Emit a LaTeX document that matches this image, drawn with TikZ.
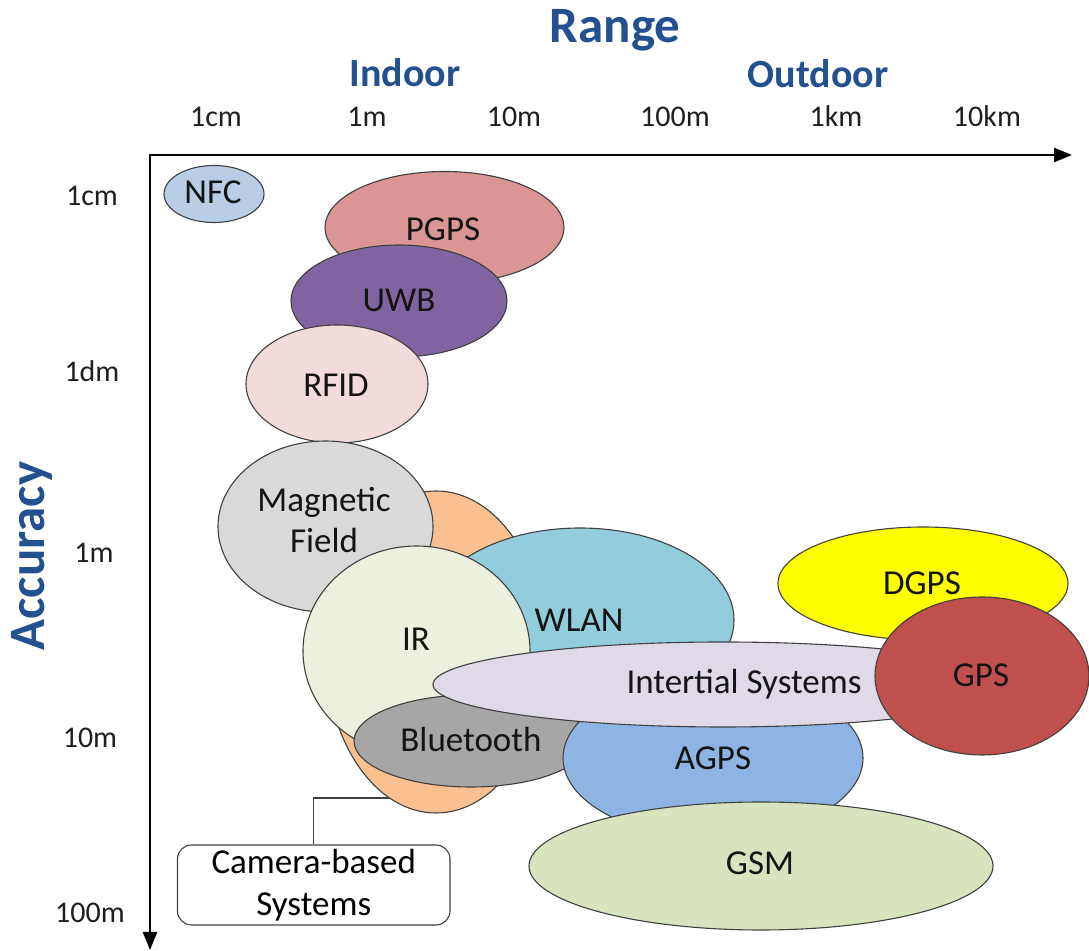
\documentclass[tikz,border=0pt]{standalone}
\usepackage{fontspec}
\setmainfont{Carlito}
\usetikzlibrary{shapes.geometric,arrows.meta}
\definecolor{titleblue}{HTML}{23508E}
\definecolor{cNFC}{HTML}{B9CDE5}
\definecolor{cPGPS}{HTML}{D99694}
\definecolor{cUWB}{HTML}{8064A2}
\definecolor{cRFID}{HTML}{F2DCDB}
\definecolor{cCam}{HTML}{FAC090}
\definecolor{cMag}{HTML}{D9D9D9}
\definecolor{cWLAN}{HTML}{93CDDD}
\definecolor{cIR}{HTML}{EBF1DE}
\definecolor{cBT}{HTML}{A6A6A6}
\definecolor{cAGPS}{HTML}{8EB4E3}
\definecolor{cGSM}{HTML}{D7E4BD}
\definecolor{cINS}{HTML}{E0DAE8}
\definecolor{cDGPS}{HTML}{FFFF00}
\definecolor{cGPS}{HTML}{C0504D}
\begin{document}
\begin{tikzpicture}[x=0.5pt,y=-0.5pt,
  blob/.style={ellipse, draw=black!75, line width=0.55pt, inner sep=0pt, outer sep=0pt},
  lbl/.style={font=\fontsize{17.5}{20.5}\selectfont, inner sep=0pt, text=black!92},
  tick/.style={font=\fontsize{15}{18}\selectfont, anchor=base, inner sep=0pt, text=black!88},
  head/.style={font=\fontsize{20}{24}\selectfont\bfseries, anchor=base, inner sep=0pt, text=titleblue},
  bighead/.style={font=\fontsize{25.5}{30}\selectfont\bfseries, anchor=base, inner sep=0pt, text=titleblue},
  axis/.style={line width=1.25pt, black},
  callout/.style={draw=black!75, line width=0.55pt, fill=white, rounded corners=7pt, inner sep=0pt, minimum width=136.25pt, minimum height=40pt, align=center, font=\fontsize{17.5}{21}\selectfont},
]
\useasboundingbox (0,0) rectangle (1089,951);

% headings
\node[bighead] (range) at (615,42.5) {Range};
\node[head] (indoor) at (405,87) {Indoor};
\node[head] (outdoor) at (818,88) {Outdoor};
\node[bighead, rotate=90] (accuracy) at (45,556) {Accuracy};

% tick labels
\node[tick] (r1) at (216,127) {1cm};
\node[tick] (r2) at (367,127) {1m};
\node[tick] (r3) at (514,127) {10m};
\node[tick] (r4) at (675,127) {100m};
\node[tick] (r5) at (836,127) {1km};
\node[tick] (r6) at (987,127) {10km};
\node[tick] (a1) at (92,206) {1cm};
\node[tick] (a2) at (92,382) {1dm};
\node[tick] (a3) at (94,563) {1m};
\node[tick] (a4) at (90,748) {10m};
\node[tick] (a5) at (90,923) {100m};

% axes
\coordinate (corner) at (150,155);
\coordinate (xend) at (1072,155);
\coordinate (yend) at (150,950);
\draw[axis, {Triangle[length=9pt,width=7pt]}-{Triangle[length=9pt,width=7pt]}] (yend) -- (corner) -- (xend);

% camera-based callout
\node[callout] (cam) at (313.75,885) {Camera-based\\Systems};
\coordinate (camtip) at (410,798);
\draw[draw=black!75, line width=0.55pt] (cam.north) |- (camtip);

% ellipses, back to front
\node[blob, fill=cNFC, minimum width=50pt, minimum height=28.5pt] (nfc) at (214,194) {};
\node[blob, fill=cPGPS, minimum width=119.5pt, minimum height=56pt] (pgps) at (444.5,227.5) {};
\node[blob, fill=cUWB, minimum width=108pt, minimum height=56pt] (uwb) at (399,301) {};
\node[blob, fill=cRFID, minimum width=91pt, minimum height=59pt] (rfid) at (337,384) {};
\node[blob, fill=cCam, minimum width=110pt, minimum height=161pt] (camsys) at (436,652) {};
\node[blob, fill=cMag, minimum width=107.5pt, minimum height=85.5pt] (mag) at (325.5,526.5) {};
\node[blob, fill=cWLAN, minimum width=154pt, minimum height=92pt] (wlan) at (580,620) {};
\node[blob, fill=cIR, minimum width=113.5pt, minimum height=105pt] (ir) at (416.5,651) {};
\node[blob, fill=cBT, minimum width=117pt, minimum height=46pt] (bt) at (471,741) {};
\node[blob, fill=cAGPS, minimum width=150pt, minimum height=80pt] (agps) at (713,758) {};
\node[blob, fill=cGSM, minimum width=232pt, minimum height=64pt] (gsm) at (761,866) {};
\node[blob, fill=cINS, minimum width=290pt, minimum height=42.5pt] (ins) at (723,684.5) {};
\node[blob, fill=cDGPS, minimum width=145pt, minimum height=56.5pt] (dgps) at (923,583.5) {};
\node[blob, fill=cGPS, minimum width=107pt, minimum height=79pt] (gps) at (982,676) {};

% labels
\node[lbl, anchor=base] (tNFC) at (213,204) {NFC};
\node[lbl, anchor=base] (tPGPS) at (443,241) {PGPS};
\node[lbl, anchor=base] (tUWB) at (399,312) {UWB};
\node[lbl, anchor=base] (tRFID) at (336,397) {RFID};
\node[lbl, align=center] (tMag) at (324,520) {Magnetic\\Field};
\node[lbl, anchor=base] (tIR) at (416,651) {IR};
\node[lbl, anchor=base] (tWLAN) at (579,632) {WLAN};
\node[lbl, anchor=base] (tINS) at (744,694) {Intertial Systems};
\node[lbl, anchor=base] (tBT) at (471,752) {Bluetooth};
\node[lbl, anchor=base] (tAGPS) at (713,770) {AGPS};
\node[lbl, anchor=base] (tGSM) at (760,875) {GSM};
\node[lbl, anchor=base] (tDGPS) at (922,595) {DGPS};
\node[lbl, anchor=base] (tGPS) at (981,687) {GPS};
\end{tikzpicture}
\end{document}
